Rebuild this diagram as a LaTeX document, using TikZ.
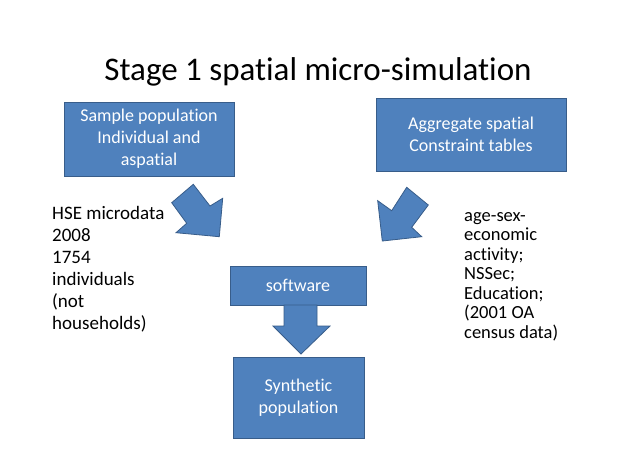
\documentclass[tikz,border=0pt]{standalone}
\usepackage{fontspec}
\setmainfont{Carlito}[Ligatures=NoCommon]
\definecolor{boxfill}{HTML}{4F81BD}
\definecolor{boxline}{HTML}{385D8A}
\begin{document}
\begin{tikzpicture}[x=1pt,y=-1pt,
  bluebox/.style={draw=boxline,fill=boxfill,line width=1pt,text=white,align=center,inner sep=0pt,
    font=\fontsize{18}{22}\selectfont},
  sidetext/.style={inner sep=0pt,align=left,anchor=north west},
  blockarrow/.style={draw=boxline,fill=boxfill,line width=0.8pt,line join=miter}]
\useasboundingbox[fill=white] (0,0) rectangle (638,451);
\node[anchor=base,font=\fontsize{33}{40}\selectfont,inner sep=0pt] (title) at (318,80) {Stage 1 spatial micro-simulation};
\node[bluebox,minimum width=170pt,minimum height=74pt] (sample) at (149,139) {Sample population\\Individual and\\aspatial};
\node[bluebox,minimum width=190pt,minimum height=73pt] (agg) at (471,134.5) {Aggregate spatial\\Constraint tables};
\node[bluebox,minimum width=136pt,minimum height=39pt] (soft) at (298,285.5) {software};
\node[bluebox,minimum width=131pt,minimum height=81pt] (synth) at (298.5,397.5) {Synthetic\\population};
\node[sidetext,font=\fontsize{19}{22}\selectfont] (hse) at (52,203.6) {\strut HSE microdata\\2008\\1754\\individuals\\(not\\households)};
\node[sidetext,font=\fontsize{18.5}{19.5}\selectfont] (cons) at (464,207.3) {\strut age-sex-\\economic\\activity;\\NSSec;\\Education;\\(2001 OA\\census data)};
% left diagonal block arrow
\draw[blockarrow] (171.7,202.7) -- (193.3,184.3) -- (210,206) -- (222.7,198.3) -- (219.3,236.7) -- (176,232.7) -- (186.7,223.3) -- cycle;
% right diagonal block arrow
\draw[blockarrow] (428.3,205) -- (406.7,187.3) -- (391.7,210.7) -- (377.7,200.7) -- (382.3,241) -- (421.7,236.7) -- (411.7,227.3) -- cycle;
% down block arrow from software to synthetic population
\draw[blockarrow] (284,305) -- (317,305) -- (317,326) -- (330,326) -- (301,354) -- (273,326) -- (284,326) -- cycle;
\end{tikzpicture}
\end{document}
